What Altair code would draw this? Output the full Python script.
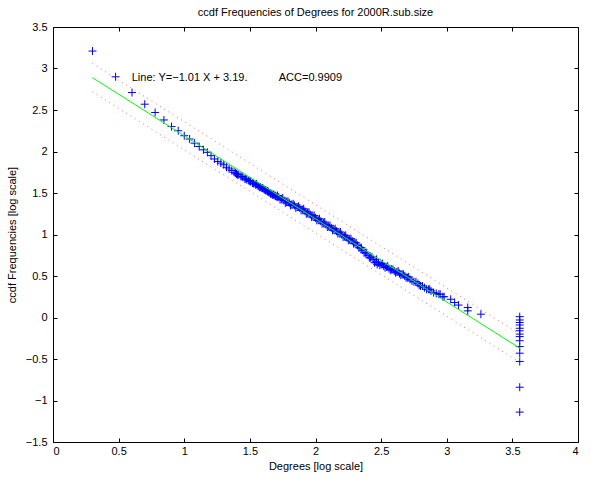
import altair as alt
import pandas as pd

# ---- data ----
deg_log = [0.301, 0.477, 0.602, 0.699, 0.778, 0.845, 0.903, 0.954, 1.000, 1.041,
           1.079, 1.114, 1.146, 1.176, 1.204, 1.230, 1.255, 1.279, 1.301, 1.322,
           1.342, 1.362, 1.380, 1.398, 1.415, 1.431, 1.447, 1.462, 1.477, 1.491,
           1.505, 1.519, 1.531, 1.544, 1.556, 1.568, 1.580, 1.591, 1.602, 1.613,
           1.623, 1.633, 1.643, 1.653, 1.663, 1.672, 1.681, 1.690, 1.699, 1.708,
           1.72, 1.74, 1.76, 1.78, 1.80, 1.82, 1.84, 1.86, 1.88, 1.90,
           1.92, 1.94, 1.96, 1.98, 2.00, 2.02, 2.04, 2.06, 2.08, 2.10,
           2.12, 2.14, 2.16, 2.18, 2.20, 2.22, 2.24, 2.26, 2.28, 2.30,
           2.32, 2.34, 2.36, 2.38, 2.40, 2.42, 2.44, 2.46, 2.47, 2.48,
           2.50, 2.52, 2.54, 2.56, 2.58, 2.60, 2.62, 2.64, 2.66, 2.68,
           2.70, 2.72, 2.75, 2.78, 2.80, 2.83, 2.86, 2.88, 2.92, 2.95,
           2.98, 3.03, 3.06, 3.09, 3.16, 3.16, 3.26,
           3.556, 3.556, 3.556, 3.556, 3.556, 3.556, 3.556, 3.556, 3.556, 3.556,
           3.556, 3.556, 3.556, 3.556]
ccdf_log = [3.21, 2.90, 2.71, 2.57, 2.47, 2.38, 2.30, 2.25, 2.19, 2.15,
            2.10, 2.06, 2.02, 1.99, 1.95, 1.91, 1.88, 1.86, 1.84, 1.81,
            1.79, 1.77, 1.75, 1.73, 1.72, 1.70, 1.69, 1.67, 1.66, 1.65,
            1.64, 1.62, 1.61, 1.60, 1.59, 1.58, 1.57, 1.56, 1.55, 1.54,
            1.53, 1.52, 1.51, 1.50, 1.49, 1.48, 1.48, 1.47, 1.46, 1.45,
            1.45, 1.43, 1.41, 1.39, 1.38, 1.36, 1.35, 1.33, 1.32, 1.30,
            1.28, 1.26, 1.24, 1.22, 1.20, 1.18, 1.16, 1.14, 1.12, 1.10,
            1.08, 1.06, 1.04, 1.02, 1.00, 0.98, 0.96, 0.94, 0.92, 0.90,
            0.87, 0.84, 0.81, 0.78, 0.75, 0.72, 0.70, 0.67, 0.64, 0.66,
            0.64, 0.62, 0.61, 0.59, 0.58, 0.56, 0.55, 0.53, 0.52, 0.50,
            0.48, 0.46, 0.43, 0.41, 0.38, 0.36, 0.34, 0.32, 0.29, 0.28,
            0.25, 0.22, 0.18, 0.15, 0.12, 0.08, 0.04,
            0.01, -0.03, -0.06, -0.09, -0.13, -0.16, -0.20, -0.23, -0.28, -0.35,
            -0.43, -0.53, -0.84, -1.14]

# additional degrees in the dense part of the distribution
deg_log_extra = [1.39, 1.405, 1.44, 1.47, 1.50, 1.525, 1.55, 1.575, 1.597, 1.618,
                 1.638, 1.658, 1.677, 1.695,
                 1.71, 1.73, 1.75, 1.77, 1.79, 1.81, 1.83, 1.85, 1.87, 1.89,
                 1.91, 1.93, 1.95, 1.97, 1.99, 2.01, 2.03, 2.05, 2.07, 2.09,
                 2.11, 2.13, 2.15, 2.17, 2.19, 2.21, 2.23, 2.25, 2.27, 2.29,
                 2.31, 2.33, 2.35, 2.37, 2.39, 2.41, 2.43, 2.45, 2.465, 2.49,
                 2.51, 2.53, 2.55, 2.57, 2.59, 2.61, 2.63, 2.65, 2.67, 2.69,
                 2.71, 2.735, 2.765, 2.79, 2.815, 2.845, 2.87, 2.90, 2.94, 2.97]
ccdf_log_extra = [1.74, 1.72, 1.70, 1.67, 1.64, 1.62, 1.61, 1.57, 1.56, 1.535,
                  1.52, 1.49, 1.48, 1.465,
                  1.47, 1.42, 1.44, 1.38, 1.40, 1.35, 1.37, 1.32, 1.34, 1.29,
                  1.31, 1.25, 1.27, 1.21, 1.23, 1.17, 1.19, 1.13, 1.15, 1.09,
                  1.11, 1.05, 1.07, 1.01, 1.03, 0.97, 0.99, 0.93, 0.95, 0.89,
                  0.90, 0.84, 0.84, 0.78, 0.78, 0.72, 0.73, 0.66, 0.70, 0.63,
                  0.65, 0.60, 0.62, 0.57, 0.58, 0.54, 0.56, 0.51, 0.52, 0.48,
                  0.49, 0.44, 0.43, 0.39, 0.38, 0.34, 0.34, 0.30, 0.28, 0.25]

fit_x = [0.30, 3.556]
fit_y = [2.89, -0.37]
upper_y = [3.06, -0.20]
lower_y = [2.72, -0.54]

ann_x = [0.60, 1.72]
ann_y = [2.89, 2.89]
ann_text = ["Line: Y=\u22121.01 X + 3.19.", "ACC=0.9909"]

x_ticks = [0, 0.5, 1, 1.5, 2, 2.5, 3, 3.5, 4]
y_ticks = [-1.5, -1, -0.5, 0, 0.5, 1, 1.5, 2, 2.5, 3, 3.5]

FONT = "Liberation Sans"

pts = pd.DataFrame({"x": deg_log + deg_log_extra, "y": ccdf_log + ccdf_log_extra})
fit_df = pd.DataFrame({"x": fit_x, "y": fit_y})
bnd_df = pd.DataFrame({
    "x": fit_x + fit_x,
    "y": upper_y + lower_y,
    "side": ["upper", "upper", "lower", "lower"],
})
ann_df = pd.DataFrame({"x": ann_x, "y": ann_y, "t": ann_text})

xs = alt.Scale(domain=[0, 4], nice=False, zero=False)
ys = alt.Scale(domain=[-1.5, 3.5], nice=False, zero=False)

ax_bottom = alt.Axis(values=x_ticks, format="~g", orient="bottom", offset=-4, tickSize=4,
                     domain=False, grid=False, labelPadding=3, title="Degrees [log scale]",
                     titlePadding=4)
ax_left = alt.Axis(values=y_ticks, format="~g", orient="left", offset=-4, tickSize=4,
                   domain=False, grid=False, labelPadding=6, title="ccdf Frequencies [log scale]",
                   titlePadding=8)
ax_top = alt.Axis(values=x_ticks, orient="top", offset=-4, tickSize=4, domain=False,
                  grid=False, labels=False, title=None)
ax_right = alt.Axis(values=y_ticks, orient="right", offset=-4, tickSize=4, domain=False,
                    grid=False, labels=False, title=None)

points = alt.Chart(pts).mark_point(
    shape="M-1,0L1,0M0,-1L0,1", filled=False, color="#0000ff", size=64,
    strokeWidth=1, opacity=1
).encode(
    x=alt.X("x:Q", scale=xs, axis=ax_bottom),
    y=alt.Y("y:Q", scale=ys, axis=ax_left),
)

fit = alt.Chart(fit_df).mark_line(color="#00ff00", strokeWidth=1).encode(
    x=alt.X("x:Q", scale=xs, axis=ax_top),
    y=alt.Y("y:Q", scale=ys, axis=ax_right),
)

bounds = alt.Chart(bnd_df).mark_line(color="#ff0000", strokeWidth=1, strokeDash=[1, 4],
                                     opacity=0.6).encode(
    x=alt.X("x:Q", scale=xs, axis=None),
    y=alt.Y("y:Q", scale=ys, axis=None),
    detail="side:N",
)

ann = alt.Chart(ann_df).mark_text(align="left", baseline="middle", font=FONT,
                                  fontSize=11, color="black").encode(
    x=alt.X("x:Q", scale=xs, axis=None),
    y=alt.Y("y:Q", scale=ys, axis=None),
    text="t:N",
)

chart = alt.layer(points, fit, bounds, ann).resolve_axis(
    x="independent", y="independent"
).properties(
    width=525, height=415,
    title=alt.TitleParams("ccdf Frequencies of Degrees for 2000R.sub.size", font=FONT,
                          fontSize=11, fontWeight="normal", color="black", offset=3),
    padding={"left": 53, "top": 27, "right": 13, "bottom": 38},
    autosize="none",
    background="white",
).configure_axis(
    labelFont=FONT, labelFontSize=11, labelColor="black",
    titleFont=FONT, titleFontSize=11, titleFontWeight="normal", titleColor="black",
    tickColor="black", tickWidth=1,
).configure_view(stroke="black", strokeWidth=1)

chart.save("out.html", embed_options={"renderer": "svg", "actions": False})
